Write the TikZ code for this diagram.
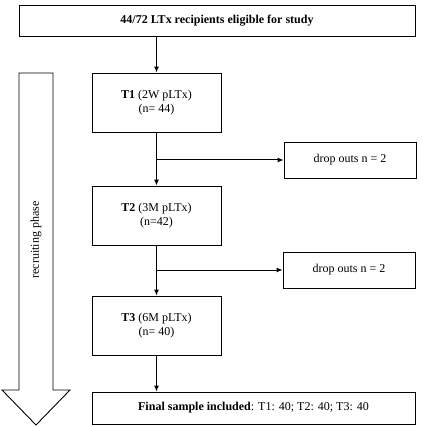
\documentclass[tikz,border=0pt]{standalone}
\usepackage{fontspec}
\setmainfont{Liberation Serif}
\usetikzlibrary{arrows.meta}
\begin{document}
\begin{tikzpicture}[x=1pt,y=-1pt,
  box/.style={draw,line width=0.9pt,inner sep=0pt,align=center,font=\fontsize{12}{13.5}\selectfont},
  conn/.style={line width=1pt,-{Latex[length=6pt,width=5pt]}}]
\useasboundingbox (0,0) rectangle (422,427);
\node[box,minimum width=396pt,minimum height=31pt] (top) at (217,20.5) {\textbf{44/72 LTx recipients eligible for study}};
\node[box,minimum width=129pt,minimum height=59pt] (t1) at (156.5,102.5) {\textbf{T1} (2W pLTx)\\(n= 44)};
\node[box,minimum width=129pt,minimum height=59pt] (t2) at (156.5,215.5) {\textbf{T2} (3M pLTx)\\(n=42)};
\node[box,minimum width=129pt,minimum height=59pt] (t3) at (156.5,325.5) {\textbf{T3} (6M pLTx)\\(n= 40)};
\node[box,minimum width=132pt,minimum height=36pt] (d1) at (350,160) {drop outs n = 2};
\node[box,minimum width=132pt,minimum height=36pt] (d2) at (349,270) {drop outs n = 2};
\node[box,minimum width=323pt,minimum height=32pt] (fin) at (253.5,408) {\textbf{Final sample included}: T1: 40; T2: 40; T3: 40};
\coordinate (a0) at (top.south -| t1.north);
\coordinate (a3) at (t3.south |- fin.north);
\draw[conn] (a0) -- (t1.north);
\draw[conn] (t1) -- (t2);
\draw[conn] (t2) -- (t3);
\draw[conn] (t3.south) -- (a3);
\coordinate (b1) at (t1.south |- d1.west);
\coordinate (b2) at (t2.south |- d2.west);
\draw[conn] (b1) -- (d1.west);
\draw[conn] (b2) -- (d2.west);
\draw[line width=0.9pt,line join=miter] (19,73) -- (53,73) -- (53,390) -- (70,390) -- (36,425) -- (2,390) -- (19,390) -- cycle;
\node[rotate=90,font=\fontsize{12}{13.5}\selectfont] (rp) at (36,240) {recruiting phase};
\end{tikzpicture}
\end{document}
